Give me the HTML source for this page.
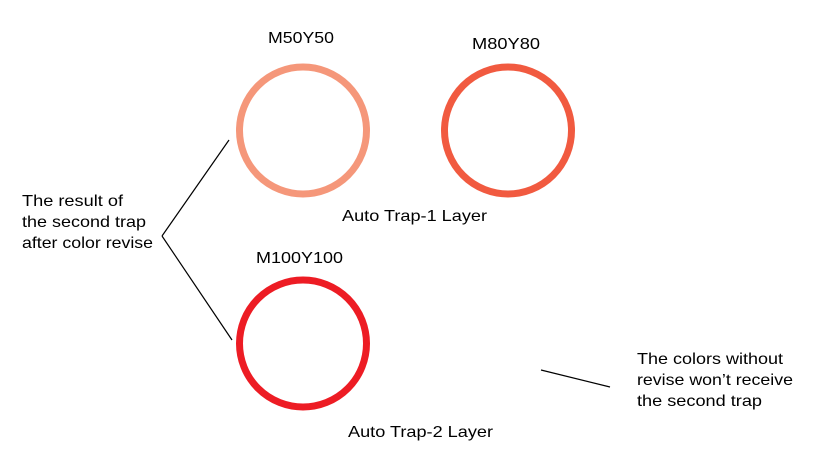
<!DOCTYPE html>
<html><head><style>
body{margin:0;background:#fff;}
svg{display:block;}
text{font-family:"Liberation Sans",Arial,sans-serif;font-size:16px;fill:#000;}
</style></head><body>
<svg width="814" height="454" viewBox="0 0 814 454">
<circle cx="303" cy="130.5" r="63.5" fill="none" stroke="#f5977a" stroke-width="7"/>
<circle cx="508" cy="130.5" r="63.5" fill="none" stroke="#f15a40" stroke-width="7"/>
<circle cx="303" cy="343.5" r="63.5" fill="none" stroke="#ed1c24" stroke-width="7"/>
<line x1="162" y1="236" x2="229" y2="140" stroke="#000" stroke-width="1.2"/>
<line x1="162" y1="236" x2="232" y2="340" stroke="#000" stroke-width="1.2"/>
<line x1="541" y1="370" x2="610" y2="387" stroke="#000" stroke-width="1.2"/>
<text x="268" y="43" textLength="66" lengthAdjust="spacingAndGlyphs">M50Y50</text>
<text x="472" y="49" textLength="68" lengthAdjust="spacingAndGlyphs">M80Y80</text>
<text x="342" y="221" textLength="145" lengthAdjust="spacingAndGlyphs">Auto Trap-1 Layer</text>
<text x="256" y="263" textLength="87" lengthAdjust="spacingAndGlyphs">M100Y100</text>
<text x="348" y="437" textLength="145" lengthAdjust="spacingAndGlyphs">Auto Trap-2 Layer</text>
<text x="22" y="206" textLength="101" lengthAdjust="spacingAndGlyphs">The result of</text>
<text x="22" y="227" textLength="124" lengthAdjust="spacingAndGlyphs">the second trap</text>
<text x="22" y="248" textLength="131" lengthAdjust="spacingAndGlyphs">after color revise</text>
<text x="637" y="364" textLength="146" lengthAdjust="spacingAndGlyphs">The colors without</text>
<text x="637" y="385" textLength="156" lengthAdjust="spacingAndGlyphs">revise won’t receive</text>
<text x="637" y="406" textLength="125" lengthAdjust="spacingAndGlyphs">the second trap</text>
</svg>
</body></html>
